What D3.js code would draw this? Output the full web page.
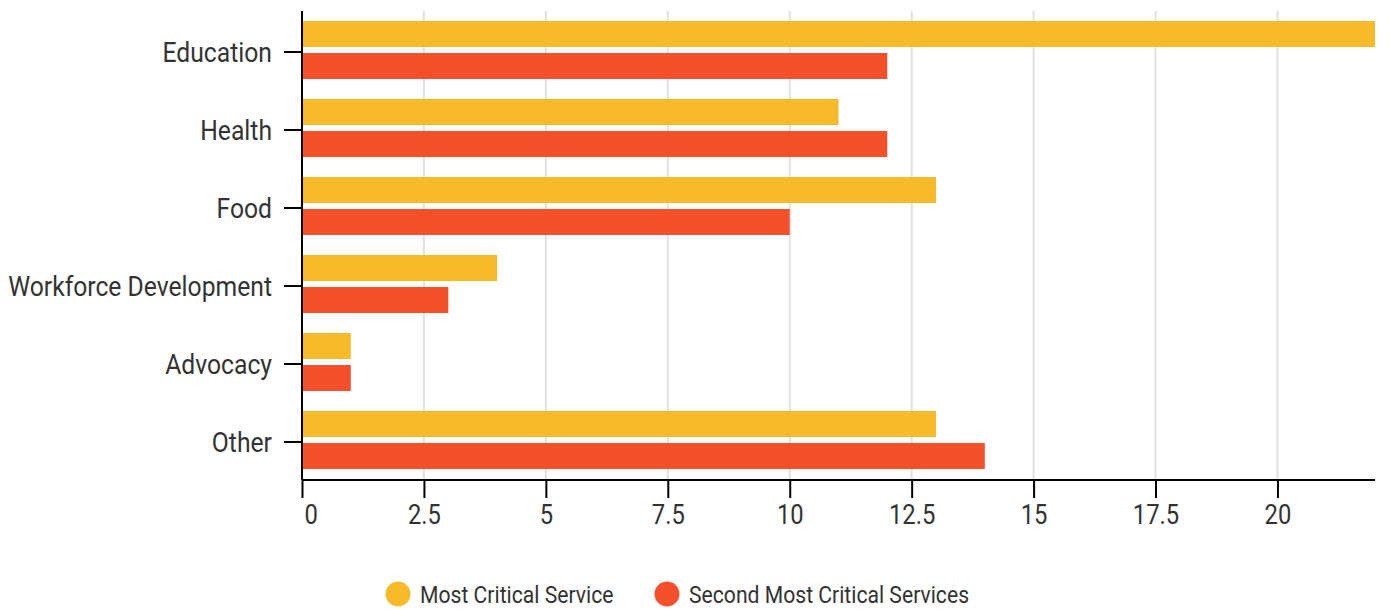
<!DOCTYPE html>
<html>
<head>
<meta charset="utf-8">
<script src="https://cdn.jsdelivr.net/npm/d3@7"></script>
<style>
  html, body { margin: 0; padding: 0; background: #fff; }
  svg text { font-family: Roboto, "Noto Sans", sans-serif; fill: #333; }
</style>
</head>
<body>
<svg id="chart" width="1390" height="610"></svg>
<script>
const categories = ["Education", "Health", "Food", "Workforce Development", "Advocacy", "Other"];
const seriesNames = ["Most Critical Service", "Second Most Critical Services"];
const mostCritical = [22, 11, 13, 4, 1, 13];
const secondMostCritical = [12, 12, 10, 3, 1, 14];
const xTicks = [0, 2.5, 5, 7.5, 10, 12.5, 15, 17.5, 20];
const colors = ["#F6BA2B", "#F5502C"];

const rows = categories.map((c, i) => ({
  category: c,
  values: [mostCritical[i], secondMostCritical[i]]
}));

const svg = d3.select("#chart");
const W = 1390;
const left = 302, right = 15;
const condenseAxis = 0.88, condenseLabel = 0.915, condenseLegend = 0.92;

const x = d3.scaleLinear().domain([0, 22]).range([left, W - right]);
const y = d3.scaleBand().domain(categories)
  .range([11, 479])
  .paddingInner(20 / 78).paddingOuter(10 / 78);
const ySub = d3.scaleBand().domain([0, 1]).range([0, y.bandwidth()]).paddingInner(0.1875);

const plotTop = 11, plotBottom = 480;

// vertical gridlines
svg.append("g").selectAll("line").data(xTicks.slice(1)).join("line")
  .attr("x1", d => x(d)).attr("x2", d => x(d))
  .attr("y1", plotTop).attr("y2", plotBottom)
  .attr("stroke", "#e0e0e0").attr("stroke-width", 2);

// bars
const groups = svg.append("g").selectAll("g").data(rows).join("g")
  .attr("transform", d => `translate(0,${y(d.category)})`);
groups.selectAll("rect").data(d => d.values.map((v, k) => ({ v, k }))).join("rect")
  .attr("x", x(0) + 1)
  .attr("y", d => ySub(d.k))
  .attr("width", d => Math.max(0, x(d.v) - x(0) - 1))
  .attr("height", ySub.bandwidth())
  .attr("fill", d => colors[d.k]);

// x axis
const xAxis = svg.append("g").attr("transform", `translate(0,${plotBottom})`)
  .call(d3.axisBottom(x).tickValues(xTicks).tickSize(18).tickSizeOuter(0)
    .tickFormat(d => String(d)));
xAxis.select(".domain").attr("stroke", "#000").attr("stroke-width", 2)
  .attr("d", `M${x(0)},0H${W - right}`);
xAxis.selectAll(".tick line").attr("stroke", "#000").attr("stroke-width", 2);
xAxis.selectAll(".tick text")
  .attr("y", 0).attr("dy", 0)
  .style("font-size", "27px")
  .attr("fill", "#333")
  .attr("text-anchor", d => d === 0 ? "start" : "middle")
  .attr("transform", d => `translate(${d === 0 ? 2 : 0},44) scale(${condenseAxis},1)`);

// y axis (ticks sit slightly below the centre of each bar pair)
const yAxis = svg.append("g").attr("transform", `translate(${x(0)},2)`)
  .call(d3.axisLeft(y).tickSize(18).tickSizeOuter(0).tickPadding(0));
yAxis.select(".domain").attr("stroke", "#000").attr("stroke-width", 2)
  .attr("d", `M0,${plotTop - 2}V${plotBottom - 2}`);
yAxis.selectAll(".tick line").attr("stroke", "#000").attr("stroke-width", 2);
yAxis.selectAll(".tick text")
  .attr("x", 0).attr("dy", "0.35em")
  .style("font-size", "27px")
  .attr("fill", "#333")
  .attr("transform", `translate(-30,1) scale(${condenseLabel},1)`);

// legend
const legendItems = [
  { name: seriesNames[0], color: colors[0], cx: 398 },
  { name: seriesNames[1], color: colors[1], cx: 667 }
];
const legend = svg.append("g").attr("transform", "translate(0,594)");
legendItems.forEach(it => {
  legend.append("circle").attr("cx", it.cx).attr("cy", 0).attr("r", 12.5).attr("fill", it.color);
  legend.append("text").attr("x", 0).attr("y", 0).attr("dy", "0.35em")
    .style("font-size", "23px").attr("fill", "#333")
    .attr("transform", `translate(${it.cx + 22},1) scale(${condenseLegend},1)`)
    .text(it.name);
});
</script>
</body>
</html>
